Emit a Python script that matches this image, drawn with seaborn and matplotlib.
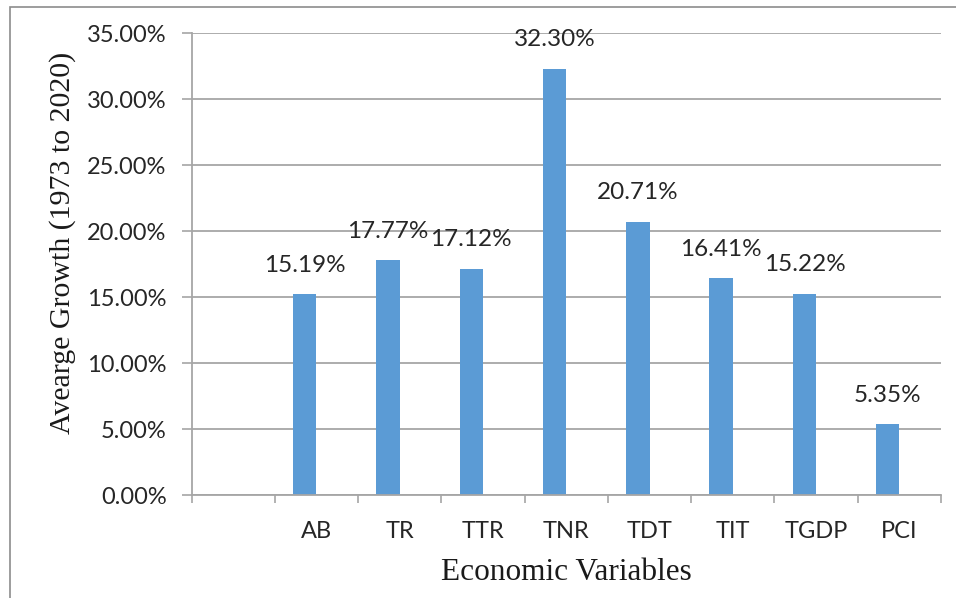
import numpy as np
import pandas as pd
import matplotlib
matplotlib.use("Agg")
import matplotlib.pyplot as plt
import seaborn as sns
from matplotlib.patches import Rectangle
from matplotlib.ticker import FixedLocator, PercentFormatter

# Average growth by economic variable (first slot left blank)
categories = ["", "AB", "TR", "TTR", "TNR", "TDT", "TIT", "TGDP", "PCI"]
growth = [np.nan, 15.19, 17.77, 17.12, 32.30, 20.71, 16.41, 15.22, 5.35]
series = ["Growth"] * len(categories)
series_levels = ["Growth", "Spare"]
y_ticks = [0, 5, 10, 15, 20, 25, 30, 35]

df = pd.DataFrame({"variable": categories, "growth": growth, "series": series})

sns.set_theme(style="white")
plt.rcParams["font.family"] = ["Lato", "DejaVu Sans"]

fig = plt.figure(figsize=(9.56, 5.98), dpi=100)
ax = fig.add_axes([191.5 / 956, 1 - 495 / 598, (941 - 191.5) / 956, (495 - 33) / 598])

sns.barplot(data=df, x="variable", y="growth", hue="series", hue_order=series_levels,
            order=categories, palette=["#5B9BD5", "#ED7D31"], width=0.56,
            dodge=True, saturation=1, errorbar=None, legend=False, ax=ax,
            edgecolor="#5B9BD5", linewidth=0)

ax.set_xlim(-0.5, len(categories) - 0.5)
ax.set_ylim(0, 35)

# value labels above each bar
for p in ax.patches:
    h = p.get_height()
    if np.isnan(h) or h == 0:
        continue
    ax.annotate(f"{h:.2f}%", (p.get_x() + p.get_width() / 2, h),
                xytext=(0, 13.5), textcoords="offset points", ha="center", va="bottom",
                fontsize=17.5, color="#262626")

# gridlines and ticks
ax.set_yticks(y_ticks)
ax.yaxis.set_major_formatter(PercentFormatter(decimals=2))
ax.grid(axis="y", color="#A6A6A6", linewidth=1.3)
ax.set_axisbelow(True)
ax.xaxis.set_major_locator(FixedLocator(np.arange(-0.5, len(categories), 1.0)))
ax.xaxis.set_minor_locator(FixedLocator(np.arange(len(categories))))
ax.set_xticklabels([], minor=False)
ax.set_xticklabels(categories, minor=True)
ax.tick_params(axis="x", which="major", direction="out", length=6, width=1.2,
               color="#A6A6A6", bottom=True)
ax.tick_params(axis="x", which="minor", length=0, pad=19, labelsize=17, labelcolor="#262626")
ax.tick_params(axis="y", direction="out", length=7, width=1.2, color="#A6A6A6",
               left=True, labelsize=17, labelcolor="#262626", pad=11)

for side in ("top", "right"):
    ax.spines[side].set_visible(False)
for side in ("left", "bottom"):
    ax.spines[side].set_color("#A6A6A6")
    ax.spines[side].set_linewidth(1.3)

ax.set_xlabel("")
ax.set_ylabel("")
serif = ["Liberation Serif", "DejaVu Serif"]
fig.text(566 / 956, 1 - 573 / 598, "Economic Variables", ha="center", va="center",
         fontsize=22.5, family=serif, color="#1a1a1a")
fig.text(63 / 956, 1 - 243 / 598, "Avearge Growth (1973 to 2020)", ha="center", va="center",
         rotation=90, fontsize=21.5, family=serif, color="#1a1a1a")

# chart frame
fig.patches.append(Rectangle((10 / 956, -0.1), 1.2, 1 - 7 / 598 + 0.1, transform=fig.transFigure,
                             fill=False, edgecolor="#8C8C8C", linewidth=1.2))

fig.savefig("out.png", dpi=100)
